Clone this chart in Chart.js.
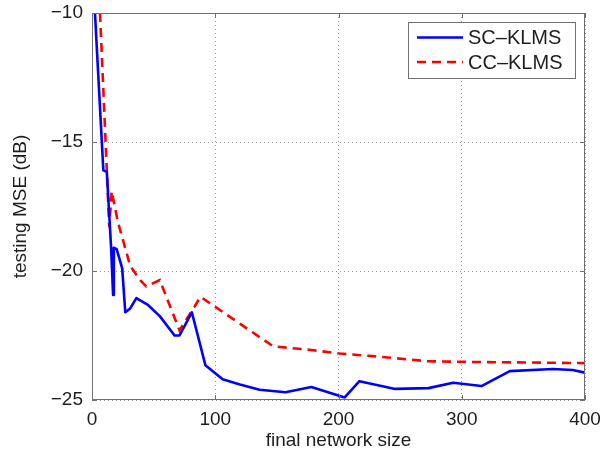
<!DOCTYPE html>
<html>
<head>
<meta charset="utf-8">
<script src="https://cdn.jsdelivr.net/npm/chart.js@4/dist/chart.umd.min.js"></script>
<style>
  body { margin: 0; background: #fff; }
  canvas { display: block; }
</style>
</head>
<body>
<canvas id="canvas" width="604" height="462"></canvas>
<script>
// network size (x) and testing MSE in dB (y)
let scX = [2.4, 9.2, 12, 15.5, 17.1, 17.7, 20, 24.5, 27, 31, 36, 45, 55, 67, 71, 81, 92, 106, 120, 136, 157, 178, 205, 217, 246, 273, 293, 316, 339, 374, 390, 400];
let scY = [-10, -16.1, -16.15, -19.1, -20.93, -19.1, -19.15, -19.9, -21.6, -21.45, -21.05, -21.3, -21.75, -22.5, -22.5, -21.6, -23.65, -24.2, -24.4, -24.6, -24.7, -24.5, -24.9, -24.27, -24.57, -24.54, -24.33, -24.46, -23.88, -23.8, -23.84, -23.94];

let ccX = [6.5, 14, 16, 21, 31, 39, 44, 55, 71, 83, 88, 147, 178, 201, 228, 255, 273, 299, 400];
let ccY = [-10, -18.3, -16.9, -18.1, -19.8, -20.35, -20.6, -20.35, -22.3, -21.4, -21.0, -22.92, -23.06, -23.2, -23.3, -23.42, -23.5, -23.52, -23.57];

let xTicks = [0, 100, 200, 300, 400];
let yTicks = [-25, -20, -15, -10];
let seriesNames = ["SC\u2013KLMS", "CC\u2013KLMS"];

function pts(xs, ys){
  let out = [];
  for (var i = 0; i < xs.length; i++) {
    out.push({x: xs[i], y: ys[i]});
  }
  return out;
}

function minus(v){
  return (v < 0 ? "\u2212" : "") + Math.abs(v);
}

const txt = "#1e1e1e";
const fnt = {family: "'Liberation Sans', Arial, sans-serif", size: 19};

// matlab style box with inward ticks
const frame = {
  id: "frame",
  afterDraw(chart){
    const c = chart.ctx, a = chart.chartArea;
    const sx = chart.scales.x, sy = chart.scales.y;
    c.save();
    c.strokeStyle = "#707070";
    c.lineWidth = 1;
    c.setLineDash([]);
    c.strokeRect(a.left + 0.5, a.top + 0.5, a.right - a.left - 1, a.bottom - a.top - 1);
    c.beginPath();
    xTicks.forEach(t => {
      let px = Math.round(sx.getPixelForValue(t)) + 0.5;
      c.moveTo(px, a.bottom); c.lineTo(px, a.bottom - 5);
      c.moveTo(px, a.top); c.lineTo(px, a.top + 5);
    });
    yTicks.forEach(t => {
      let py = Math.round(sy.getPixelForValue(t)) + 0.5;
      c.moveTo(a.left, py); c.lineTo(a.left + 5, py);
      c.moveTo(a.right, py); c.lineTo(a.right - 5, py);
    });
    c.stroke();

    // legend
    const bx = 408.5, by = 22.5, bw = 167, bh = 56;
    c.fillStyle = "#fff";
    c.fillRect(bx, by, bw, bh);
    c.strokeRect(bx, by, bw, bh);
    chart.data.datasets.forEach((ds, i) => {
      let ly = 37.5 + i * 24.5;
      c.strokeStyle = ds.borderColor;
      c.lineWidth = ds.borderWidth;
      c.setLineDash(ds.borderDash || []);
      c.beginPath();
      c.moveTo(417, ly); c.lineTo(463, ly);
      c.stroke();
      c.setLineDash([]);
      c.fillStyle = txt;
      c.font = "20px 'Liberation Sans', Arial, sans-serif";
      c.textBaseline = "middle";
      c.textAlign = "left";
      c.fillText(ds.label, 468, ly + 1);
    });
    c.restore();
  }
};

let ctx = document.getElementById("canvas").getContext("2d");
let grafica = new Chart(ctx, {
  type: "line",
  data: {
    datasets: [{
      label: seriesNames[0],
      data: pts(scX, scY),
      borderColor: "#0000ff",
      borderWidth: 2.6,
      borderJoinStyle: "round",
      pointRadius: 0,
      fill: false
    }, {
      label: seriesNames[1],
      data: pts(ccX, ccY),
      borderColor: "#ff0000",
      borderWidth: 2.6,
      borderDash: [9, 6],
      pointRadius: 0,
      fill: false
    }]
  },
  options: {
    responsive: false,
    animation: false,
    layout: {padding: {left: 0, top: 13, right: 19, bottom: 0}},
    plugins: {
      legend: {display: false},
      tooltip: {enabled: false}
    },
    scales: {
      x: {
        type: "linear",
        min: 0, max: 400,
        afterBuildTicks: s => { s.ticks = xTicks.map(v => ({value: v})); },
        ticks: {padding: 8, color: txt, font: fnt, maxRotation: 0},
        grid: {color: "#9a9a9a", drawTicks: false},
        border: {display: false, dash: [1, 3]},
        title: {display: true, text: "final network size", color: txt, font: fnt, padding: {top: 0, bottom: 10}},
        afterFit: s => { s.height = 62; s.paddingLeft = 0; s.paddingRight = 0; }
      },
      y: {
        type: "linear",
        min: -25, max: -10,
        afterBuildTicks: s => { s.ticks = yTicks.map(v => ({value: v})); },
        ticks: {padding: 9, color: txt, font: fnt, callback: v => minus(v)},
        grid: {color: "#9a9a9a", drawTicks: false},
        border: {display: false, dash: [1, 3]},
        title: {display: true, text: "testing MSE (dB)", color: txt, font: fnt, padding: {top: 9, bottom: 0}},
        afterFit: s => { s.width = 92; s.paddingTop = 0; s.paddingBottom = 0; }
      }
    }
  },
  plugins: [frame]
});
</script>
</body>
</html>
